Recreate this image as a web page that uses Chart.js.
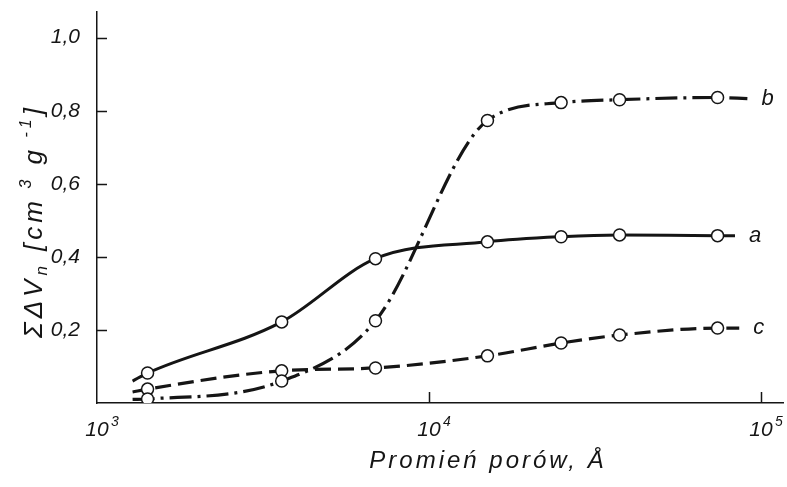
<!DOCTYPE html>
<html>
<head>
<meta charset="utf-8">
<script src="https://cdn.jsdelivr.net/npm/chart.js@4.4.1/dist/chart.umd.min.js"></script>
<style>
  html, body { margin: 0; padding: 0; background: #fff; }
  #wrap { width: 787px; height: 487px; position: relative; }
</style>
</head>
<body>
<div id="wrap"><canvas id="poreChart"></canvas></div>
<script>
// pore radius (Angstrom) of the measured points, shared by the three curves
const poreRadius = [1420, 3600, 6900, 15000, 25000, 37500, 74000];
// cumulative pore volume, cm3/g
const volumeA = [0.082, 0.222, 0.395, 0.441, 0.455, 0.460, 0.458];
const volumeB = [0.011, 0.060, 0.225, 0.773, 0.822, 0.830, 0.836];
const volumeC = [0.038, 0.088, 0.096, 0.129, 0.164, 0.186, 0.205];
const curveNames = ["a", "b", "c"];

// where the drawn curves begin and end, past the first and last point
const curveStartX = 1280;
const curveStartY = [0.060, 0.010, 0.030];
const curveEndX = [83500, 91000, 86000];
const curveEndY = [0.458, 0.833, 0.205];

const xTicks = [1000, 10000, 100000];
const yTicks = [0.2, 0.4, 0.6, 0.8, 1.0];
const xTitle = "Promień porów, Å";

const INK = "#151515";
const FONT = '"Liberation Sans", "DejaVu Sans", sans-serif';

function buildSeries(values, i){
    const pts = [{x: curveStartX, y: curveStartY[i]}];
    poreRadius.forEach((r, k) => pts.push({x: r, y: values[k]}));
    pts.push({x: curveEndX[i], y: curveEndY[i]});
    return pts;
}

function markerRadius(ctx){
    const n = ctx.dataset.data.length;
    return (ctx.dataIndex === 0 || ctx.dataIndex === n - 1) ? 0 : 6;
}

const lineStyles = [
    {dash: [], width: 3},
    {dash: [22, 6, 3, 6], width: 3.2},
    {dash: [16, 7], width: 3.2}
];

const datasets = [volumeA, volumeB, volumeC].map((v, i) => ({
    label: curveNames[i],
    data: buildSeries(v, i),
    borderColor: INK,
    borderWidth: lineStyles[i].width,
    borderDash: lineStyles[i].dash,
    cubicInterpolationMode: "monotone",
    pointRadius: markerRadius,
    pointBackgroundColor: "#fff",
    pointBorderColor: INK,
    pointBorderWidth: 1.5,
    fill: false
}));

// draws text pieces left to right; a piece is [text, size, shift]
function richWidth(ctx, parts){
    let w = 0;
    parts.forEach(p => {
        ctx.font = `italic ${p[1]}px ${FONT}`;
        w += ctx.measureText(p[0]).width;
    });
    return w;
}
function drawRich(ctx, parts, x, y){
    parts.forEach(p => {
        ctx.font = `italic ${p[1]}px ${FONT}`;
        ctx.fillText(p[0], x, y + (p[2] || 0));
        x += ctx.measureText(p[0]).width;
    });
}

const decor = {
    id: "decor",
    afterDraw(chart){
        const {ctx, chartArea: area, scales: {x, y}} = chart;
        ctx.save();
        ctx.strokeStyle = INK;
        ctx.fillStyle = INK;
        ctx.lineWidth = 1.5;

        // tick marks point into the plot
        ctx.beginPath();
        yTicks.forEach(v => {
            const py = Math.round(y.getPixelForValue(v)) + 0.5;
            ctx.moveTo(area.left, py);
            ctx.lineTo(area.left + 10, py);
        });
        xTicks.slice(1).forEach(v => {
            const px = Math.round(x.getPixelForValue(v)) + 0.5;
            ctx.moveTo(px, area.bottom);
            ctx.lineTo(px, area.bottom - 11);
        });
        ctx.stroke();

        ctx.textAlign = "left";
        ctx.textBaseline = "alphabetic";

        // 10^n labels
        xTicks.forEach(v => {
            const px = x.getPixelForValue(v);
            const e = String(Math.round(Math.log10(v)));
            ctx.font = `italic 21px ${FONT}`;
            const w10 = ctx.measureText("10").width;
            drawRich(ctx, [["10", 21], [" ", 8], [e, 14, -10]], px - w10 / 2, area.bottom + 33);
        });

        // curve names at the right ends
        ctx.textBaseline = "middle";
        datasets.forEach((d, i) => {
            const px = x.getPixelForValue(curveEndX[i]) + 14;
            const py = y.getPixelForValue(curveEndY[i]);
            ctx.font = `italic 22px ${FONT}`;
            ctx.fillText(curveNames[i], px, py);
        });
        ctx.textBaseline = "alphabetic";

        // axis titles
        ctx.letterSpacing = "3px";
        ctx.font = `italic 24px ${FONT}`;
        const tw = ctx.measureText(xTitle).width;
        ctx.fillText(xTitle, 488 - tw / 2, 468);

        const yParts = [["ΣΔV", 26], ["n", 17, 5], [" [cm", 26], [" 3", 16, -11], [" g", 26], [" -1", 16, -11], ["]", 26]];
        ctx.letterSpacing = "4px";
        const yw = richWidth(ctx, yParts);
        ctx.translate(42, 221);
        ctx.rotate(-Math.PI / 2);
        drawRich(ctx, yParts, -yw / 2, 0);
        ctx.restore();
    }
};

new Chart(document.getElementById("poreChart"), {
    type: "line",
    data: {datasets: datasets},
    options: {
        responsive: true,
        maintainAspectRatio: false,
        animation: false,
        layout: {padding: {top: 12, right: 4, left: 0, bottom: 0}},
        plugins: {legend: {display: false}, tooltip: {enabled: false}},
        scales: {
            x: {
                type: "logarithmic",
                min: 1000,
                max: 116500,
                afterBuildTicks: s => { s.ticks = xTicks.map(v => ({value: v})); },
                afterFit: s => { s.height = 84; s.paddingLeft = 0; s.paddingRight = 0; },
                grid: {display: false},
                border: {color: INK, width: 1.5},
                ticks: {display: false}
            },
            y: {
                min: 0,
                max: 1.07,
                afterBuildTicks: s => { s.ticks = yTicks.map(v => ({value: v})); },
                afterFit: s => { s.width = 97; s.paddingTop = 0; s.paddingBottom = 0; },
                grid: {display: false},
                border: {color: INK, width: 1.5},
                ticks: {
                    color: INK,
                    padding: 9,
                    font: {family: FONT, size: 21, style: "italic"},
                    callback: v => v.toFixed(1).replace(".", ",")
                }
            }
        }
    },
    plugins: [decor]
});
</script>
</body>
</html>
